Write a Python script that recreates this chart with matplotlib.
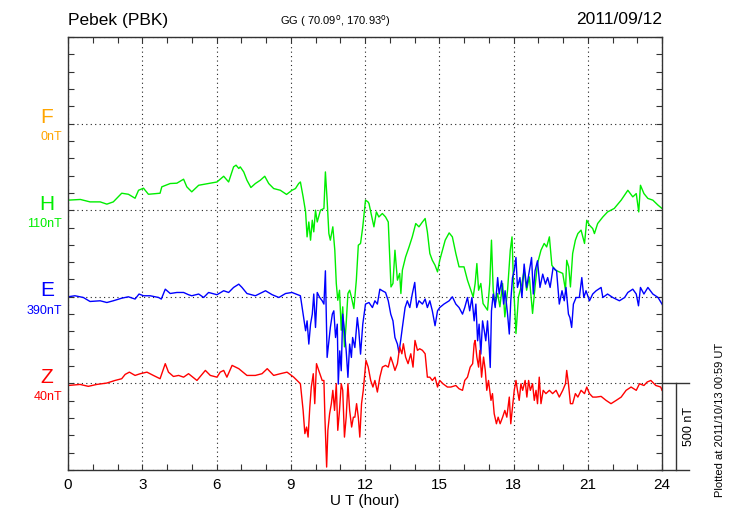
import matplotlib
matplotlib.use("Agg")
import matplotlib.pyplot as plt
import numpy as np
from matplotlib.ticker import MultipleLocator

plt.rcParams["font.family"] = ["Liberation Sans", "DejaVu Sans"]

# Traces en nT, écart par rapport à la ligne de base de chaque composante
h_time = [0.0, 0.5, 0.89, 1.3, 1.57, 1.83, 2.17, 2.44, 2.71, 2.85, 3.05, 3.25, 3.72, 3.79, 4.13, 4.4,
          4.67, 4.8, 5.0, 5.28, 5.68, 6.02, 6.29, 6.49, 6.69, 6.79, 6.9, 6.96, 7.1, 7.23, 7.39, 7.57,
          7.77, 7.95, 8.11, 8.31, 8.58, 8.83, 9.05, 9.19, 9.32, 9.39, 9.5, 9.6, 9.66, 9.73, 9.8, 9.87,
          9.93, 10.0, 10.07, 10.2, 10.34, 10.4, 10.47, 10.54, 10.6, 10.7, 10.78, 10.84, 10.9, 10.97,
          11.04, 11.1, 11.17, 11.24, 11.31, 11.38, 11.45, 11.55, 11.65, 11.73, 11.82, 11.91, 12.02,
          12.12, 12.16, 12.36, 12.46, 12.56, 12.7, 12.83, 12.94, 13.0, 13.05, 13.13, 13.21, 13.31,
          13.4, 13.45, 13.51, 13.64, 13.78, 13.91, 14.05, 14.18, 14.32, 14.43, 14.52, 14.62, 14.72,
          14.83, 14.93, 15.02, 15.13, 15.24, 15.4, 15.53, 15.67, 15.8, 16.0, 16.14, 16.28, 16.37,
          16.45, 16.52, 16.59, 16.68, 16.77, 16.86, 16.95, 17.04, 17.11, 17.18, 17.26, 17.36, 17.45,
          17.56, 17.65, 17.76, 17.87, 17.94, 18.0, 18.1, 18.2, 18.34, 18.43, 18.53, 18.64, 18.77,
          18.87, 18.97, 19.11, 19.24, 19.34, 19.45, 19.55, 19.69, 19.85, 19.99, 20.1, 20.15, 20.23,
          20.3, 20.39, 20.5, 20.6, 20.73, 20.87, 20.96, 21.07, 21.2, 21.27, 21.4, 21.61, 21.8, 22.07,
          22.35, 22.62, 22.82, 22.96, 23.06, 23.13, 23.27, 23.43, 23.63, 23.84, 24.0]
h_val = [58, 62, 48, 48, 35, 48, 98, 92, 69, 115, 127, 92, 98, 135, 154, 156,
         179, 135, 106, 144, 154, 163, 196, 163, 250, 260, 241, 250, 221, 173, 131, 154,
         173, 196, 154, 125, 115, 91, 115, 125, 154, 163, 77, -10, -154, -68, -173, -58,
         -125, 0, -68, 0, 10, 221, 58, -135, -173, -96, -231, -423, -520, -462,
         -693, -558, -789, -654, -481, -462, -501, -568, -404, -202, -192, -96, 58,
         48, 39, -96, -10, -39, -19, -39, -68, -270, -443, -423, -231, -404,
         -365, -481, -346, -270, -212, -154, -77, -96, -68, -48, -125, -250, -289,
         -318, -356, -289, -231, -173, -131, -154, -250, -327, -327, -404, -462, -501,
         -423, -308, -462, -423, -539, -558, -577, -423, -173, -462, -539, -481, -558,
         -423, -616, -462, -231, -154, -423, -712, -501, -423, -346, -462, -385, -596,
         -443, -308, -231, -192, -212, -154, -318, -346, -356, -365, -462, -289, -327,
         -443, -250, -173, -135, -115, -192, -58, -87, -106, -135, -77, -39, -10, 10,
         58, 115, 77, 96, -10, 144, 96, 68, 58, 29, 10]

e_time = [0.0, 0.28, 0.62, 0.89, 1.3, 1.57, 1.83, 2.17, 2.44, 2.71, 2.87, 3.05, 3.32, 3.66, 3.77,
          3.93, 4.13, 4.4, 4.67, 4.87, 5.0, 5.28, 5.48, 5.68, 6.02, 6.29, 6.49, 6.69, 6.9, 7.03,
          7.23, 7.57, 7.98, 8.25, 8.52, 8.79, 9.05, 9.39, 9.5, 9.6, 9.66, 9.73, 9.8, 9.87, 9.93,
          10.0, 10.07, 10.17, 10.27, 10.34, 10.4, 10.47, 10.54, 10.6, 10.68, 10.74, 10.81, 10.88,
          10.92, 10.98, 11.04, 11.1, 11.17, 11.24, 11.31, 11.38, 11.45, 11.5, 11.59, 11.69, 11.75,
          11.82, 11.91, 12.02, 12.16, 12.3, 12.4, 12.5, 12.6, 12.7, 12.83, 12.94, 13.04, 13.13,
          13.21, 13.31, 13.37, 13.44, 13.51, 13.62, 13.71, 13.81, 13.91, 14.01, 14.09, 14.18, 14.32,
          14.43, 14.52, 14.62, 14.72, 14.83, 14.93, 15.02, 15.19, 15.4, 15.53, 15.67, 15.8, 15.94,
          16.03, 16.14, 16.23, 16.32, 16.41, 16.48, 16.55, 16.61, 16.68, 16.75, 16.82, 16.88, 16.95,
          17.02, 17.06, 17.11, 17.18, 17.26, 17.36, 17.42, 17.52, 17.6, 17.66, 17.76, 17.83, 17.89,
          17.96, 18.03, 18.1, 18.16, 18.26, 18.34, 18.43, 18.53, 18.64, 18.73, 18.8, 18.87, 18.97,
          19.07, 19.18, 19.29, 19.38, 19.48, 19.6, 19.74, 19.85, 19.96, 20.05, 20.12, 20.22, 20.28,
          20.35, 20.42, 20.53, 20.66, 20.76, 20.84, 20.93, 21.07, 21.2, 21.34, 21.54, 21.61, 21.8,
          22.01, 22.28, 22.49, 22.62, 22.82, 22.96, 23.05, 23.13, 23.27, 23.43, 23.63, 23.84, 24.0]
e_val = [0, 6, -4, -27, -23, -33, -23, -8, 0, -13, 16, 6, 6, -4, -13,
         44, 19, 25, 25, 12, 6, 16, -4, 25, 12, 35, 25, 54, 73, 54,
         19, 6, 35, 12, -4, 19, 25, 6, -100, -196, -139, -273, -158, -100, 16,
         -177, 25, -4, -23, -42, 150, -350, -254, -177, -100, -81, -235, -158,
         -504, -312, -427, -100, -196, -312, -465, -273, -350, -235, -293, -120, -196,
         -331, -158, -42, -33, -62, -23, -42, 44, 35, 25, -23, -100, -139,
         -235, -273, -322, -254, -177, -62, -23, -62, 16, 83, -62, -23, -42,
         -13, -62, -23, -81, -167, -81, -62, -42, -23, 0, -42, -62, -100,
         -62, -4, -81, -4, -139, -42, -254, -158, -331, -139, -196, -254, -139,
         -293, -408, -81, 16, -62, 111, 16, 92, -42, 35, -100, -215, -23,
         111, 150, 227, 54, 111, -4, 189, 54, 150, 227, 16, 150, 208,
         54, 131, 73, 111, 54, 169, 150, -42, 35, -23, 54, -100, -120,
         -177, -42, -4, -4, 111, -4, 35, -23, 16, 35, 54, -4, 16,
         -4, -23, -4, 25, 44, 16, -52, 54, 16, 54, 16, -4, -42]

z_time = [0.0, 0.49, 0.82, 1.16, 1.57, 1.9, 2.17, 2.31, 2.48, 2.71, 2.92, 3.19, 3.45, 3.72, 3.93,
          4.06, 4.26, 4.47, 4.67, 4.87, 5.21, 5.55, 5.75, 6.02, 6.15, 6.29, 6.42, 6.63, 6.9, 7.23,
          7.57, 7.84, 8.05, 8.31, 8.58, 8.85, 9.12, 9.39, 9.5, 9.57, 9.64, 9.7, 9.77, 9.83, 9.91,
          9.97, 10.04, 10.13, 10.27, 10.34, 10.38, 10.45, 10.5, 10.57, 10.64, 10.7, 10.77, 10.84,
          10.9, 10.97, 11.04, 11.1, 11.17, 11.24, 11.31, 11.38, 11.46, 11.53, 11.59, 11.66, 11.73,
          11.79, 11.86, 11.93, 11.98, 12.04, 12.13, 12.23, 12.32, 12.4, 12.5, 12.6, 12.7, 12.83,
          12.94, 13.04, 13.13, 13.21, 13.31, 13.4, 13.49, 13.55, 13.64, 13.74, 13.85, 13.94, 14.02,
          14.12, 14.21, 14.32, 14.43, 14.52, 14.62, 14.72, 14.83, 14.93, 15.02, 15.15, 15.33, 15.47,
          15.67, 15.8, 15.94, 16.03, 16.14, 16.25, 16.35, 16.41, 16.45, 16.52, 16.59, 16.64, 16.71,
          16.79, 16.86, 16.92, 16.99, 17.09, 17.15, 17.22, 17.31, 17.38, 17.46, 17.56, 17.65, 17.73,
          17.83, 17.89, 17.96, 18.03, 18.1, 18.16, 18.23, 18.3, 18.37, 18.47, 18.54, 18.61, 18.68,
          18.77, 18.84, 18.91, 18.97, 19.04, 19.11, 19.2, 19.31, 19.45, 19.58, 19.72, 19.85, 19.99,
          20.1, 20.15, 20.22, 20.3, 20.39, 20.5, 20.6, 20.73, 20.87, 20.96, 21.07, 21.2, 21.34,
          21.54, 21.74, 21.94, 22.15, 22.35, 22.55, 22.75, 22.96, 23.09, 23.27, 23.4, 23.55, 23.75,
          23.95, 24.0]
z_val = [-12, -6, -17, -6, 2, 17, 27, 52, 65, 46, 56, 65, 46, 27, 114,
         65, 40, 46, 36, 56, 17, 75, 46, 36, 65, 75, 36, 104, 85, 46,
         46, 56, 85, 46, 56, 65, 36, -2, -156, -290, -252, -310, -137, -21, 56,
         -117, 114, 75, 17, 17, -195, -483, -271, -175, -117, -40, -156, -2,
         -271, -156, -2, -40, -310, -195, -2, -156, -252, -195, -195, -117, -195,
         -310, -117, -40, 36, 133, 94, 17, -21, 17, -50, 36, 94, 104,
         94, 152, 114, 75, 114, 210, 171, 229, 152, 114, 171, 94, 248,
         191, 200, 191, 171, 36, 36, 17, 36, -21, 17, -2, -21, -21,
         -12, -31, -40, 17, 36, 94, 114, 229, 248, 152, 94, 191, 36,
         152, 75, -40, 17, -98, -59, -175, -233, -195, -233, -195, -156, -195,
         -79, -233, -137, -40, 17, -40, -98, -2, -40, 17, -79, 17, -40,
         -2, -98, -40, -117, 36, -117, -40, -59, -40, -59, -40, -79, -40,
         -2, 75, -2, -117, -117, -59, -79, -40, -59, -21, -59, -79, -79,
         -75, -98, -117, -98, -79, -40, -21, -40, -2, -12, 8, 17, -12,
         -21, -40]

components = ["F", "H", "E", "Z"]
baselines = ["0nT", "110nT", "390nT", "40nT"]
colors = ["#ffa500", "#00ee00", "#0000ff", "#ff0000"]
levels = [2000, 1500, 1000, 500]   # position de chaque composante sur l'axe (nT)

fig = plt.figure(figsize=(7.3, 5.2), dpi=100)
ax = fig.add_axes([68 / 730, 50 / 520, 594 / 730, 433 / 520])

traces = {"H": (h_time, h_val), "E": (e_time, e_val), "Z": (z_time, z_val)}
for comp, col, lev in zip(components, colors, levels):
    if comp in traces:
        t, v = traces[comp]
        ax.plot(t, np.array(v) + lev, color=col, lw=1.0)

ax.set_xlim(0, 24)
ax.set_ylim(0, 2500)
ax.xaxis.set_major_locator(MultipleLocator(3))
ax.xaxis.set_minor_locator(MultipleLocator(1))
ax.yaxis.set_major_locator(MultipleLocator(500))
ax.yaxis.set_minor_locator(MultipleLocator(100))
ax.tick_params(which="both", direction="in", top=True, right=True, length=4, width=0.8,
               color="#333333", labelsize=11, pad=6)
ax.tick_params(axis="y", which="both", labelleft=False)
ax.grid(which="major", ls=(0, (1, 3)), color="#222222", lw=0.8)
for s in ax.spines.values():
    s.set_color("#333333")
    s.set_linewidth(1.0)
ax.set_xlabel("U T (hour)", fontsize=11, labelpad=1)

# Étiquettes des composantes à gauche
for comp, base, col, lev in zip(components, baselines, colors, levels):
    ax.text(-0.85, lev + 35, comp, color=col, fontsize=15, ha="center", va="center",
            clip_on=False)
    ax.text(-0.25, lev - 80, base, color=col, fontsize=9, ha="right", va="center",
            clip_on=False)

# Échelle 500 nT à droite
sc = dict(color="#333333", lw=1.0, clip_on=False)
ax.plot([24, 25.1], [500, 500], **sc)
ax.plot([24, 25.1], [0, 0], **sc)
ax.plot([24.55, 24.55], [0, 500], **sc)
ax.text(25.1, 250, "500 nT", rotation=90, fontsize=9, ha="center", va="center")

fig.text(68 / 730, 1 - 20 / 520, "Pebek (PBK)", fontsize=12.5, ha="left", va="center")
fig.text(335 / 730, 1 - 21 / 520, "GG ( 70.09$^{\\rm o}$, 170.93$^{\\rm o}$)", fontsize=8,
         ha="center", va="center")
fig.text(662 / 730, 1 - 20 / 520, "2011/09/12", fontsize=12.5, ha="right", va="center")
fig.text(720 / 730, 1 - 420 / 520, "Plotted at 2011/10/13 00:59 UT", fontsize=8,
         rotation=90, ha="center", va="center")

fig.savefig("out.png", dpi=100)
